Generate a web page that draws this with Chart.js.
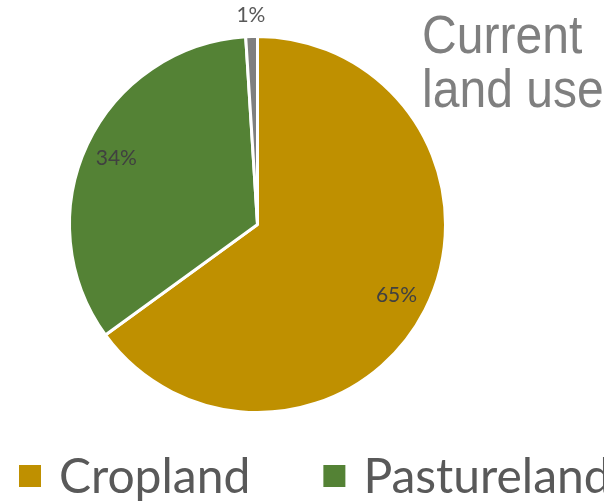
<!DOCTYPE html>
<html>
<head>
<meta charset="utf-8">
<script src="https://cdn.jsdelivr.net/npm/chart.js@4.4.0/dist/chart.umd.min.js"></script>
<style>
  html, body { margin: 0; padding: 0; background: #ffffff; overflow: hidden; }
  #wrap { width: 604px; height: 504px; position: relative; }
</style>
</head>
<body>
<div id="wrap"><canvas id="c" width="604" height="504"></canvas></div>
<script>
// Land use shares (percent)
const categories = ['Cropland', 'Pastureland', 'Other'];
const shares = [65, 34, 1];
const sliceColors = ['#BF9000', '#548235', '#7F7F7F'];
const titleLines = ['Current', 'land use'];

// Percentage labels: inside the slice near the rim, small slices just outside
const sliceLabels = {
  id: 'sliceLabels',
  afterDatasetsDraw(chart) {
    const ctx = chart.ctx;
    const meta = chart.getDatasetMeta(0);
    ctx.save();
    ctx.font = '21px Lato';
    ctx.textAlign = 'center';
    ctx.textBaseline = 'middle';
    meta.data.forEach((arc, i) => {
      const p = arc.getProps(['x', 'y', 'startAngle', 'endAngle', 'outerRadius'], true);
      const mid = (p.startAngle + p.endAngle) / 2;
      const v = shares[i];
      const small = v < 5;
      const r = small ? p.outerRadius + 21 : p.outerRadius * 0.83;
      ctx.fillStyle = small ? '#595959' : '#404040';
      ctx.fillText(v + '%', p.x + Math.cos(mid) * r, p.y + Math.sin(mid) * r);
    });
    ctx.restore();
  }
};

// Large grey heading in the upper right
const sideTitle = {
  id: 'sideTitle',
  afterDraw(chart) {
    const ctx = chart.ctx;
    ctx.save();
    ctx.fillStyle = '#7F7F7F';
    ctx.font = '54px "Liberation Sans"';
    ctx.textAlign = 'left';
    ctx.textBaseline = 'alphabetic';
    ctx.translate(422, 0);
    ctx.scale(0.89, 1);
    ctx.fillText(titleLines[0], 0, 53);
    ctx.fillText(titleLines[1], 0, 107);
    ctx.restore();
  }
};

// Single-row legend along the bottom, running past the right edge
const bottomLegend = {
  id: 'bottomLegend',
  afterDraw(chart) {
    const ctx = chart.ctx;
    const ds = chart.data.datasets[0];
    ctx.save();
    ctx.font = '48px Lato';
    ctx.textBaseline = 'alphabetic';
    ctx.textAlign = 'left';
    let x = 19;
    chart.data.labels.forEach((label, i) => {
      ctx.fillStyle = ds.backgroundColor[i];
      ctx.fillRect(x, 465, 22, 22);
      ctx.fillStyle = '#595959';
      const tx = x + 22 + 18;
      ctx.fillText(label, tx, 493);
      x = tx + ctx.measureText(label).width + 73;
    });
    ctx.restore();
  }
};

new Chart(document.getElementById('c'), {
  type: 'pie',
  data: {
    labels: categories,
    datasets: [{
      data: shares,
      backgroundColor: sliceColors,
      borderColor: '#ffffff',
      borderWidth: 3
    }]
  },
  options: {
    responsive: false,
    animation: false,
    layout: { padding: { left: 68, right: 157, top: 35, bottom: 90 } },
    plugins: {
      legend: { display: false },
      tooltip: { enabled: false },
      title: { display: false }
    }
  },
  plugins: [sliceLabels, sideTitle, bottomLegend]
});
</script>
</body>
</html>
